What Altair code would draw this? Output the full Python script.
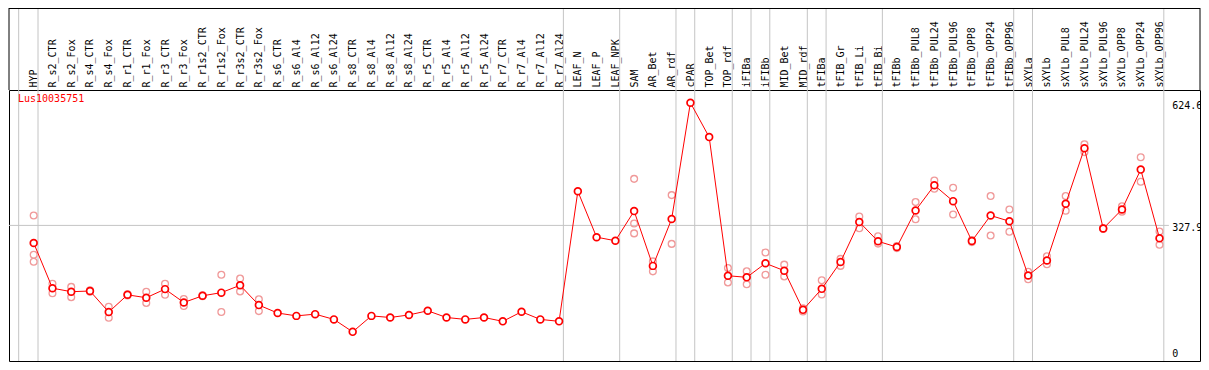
import altair as alt
import pandas as pd

gene_id = "Lus10035751"

samples = ["HYP", "R_s2_CTR", "R_s2_Fox", "R_s4_CTR", "R_s4_Fox", "R_r1_CTR", "R_r1_Fox",
           "R_r3_CTR", "R_r3_Fox", "R_r1s2_CTR", "R_r1s2_Fox", "R_r3s2_CTR", "R_r3s2_Fox",
           "R_s6_CTR", "R_s6_Al4", "R_s6_Al12", "R_s6_Al24", "R_s8_CTR", "R_s8_Al4", "R_s8_Al12",
           "R_s8_Al24", "R_r5_CTR", "R_r5_Al4", "R_r5_Al12", "R_r5_Al24", "R_r7_CTR", "R_r7_Al4",
           "R_r7_Al12", "R_r7_Al24", "LEAF_N", "LEAF_P", "LEAF_NPK", "SAM", "AR_Bet", "AR_rdf",
           "cPAR", "TOP_Bet", "TOP_rdf", "iFIBa", "iFIBb", "MID_Bet", "MID_rdf", "tFIBa",
           "tFIB_Gr", "tFIB_Li", "tFIB_Bi", "tFIBb", "tFIBb_PUL8", "tFIBb_PUL24", "tFIBb_PUL96",
           "tFIBb_OPP8", "tFIBb_OPP24", "tFIBb_OPP96", "sXYLa", "sXYLb", "sXYLb_PUL8",
           "sXYLb_PUL24", "sXYLb_PUL96", "sXYLb_OPP8", "sXYLb_OPP24", "sXYLb_OPP96"]

means = [285.5, 176.1, 167.6, 169.2, 118.4, 160.0, 153.0, 173.8, 141.5, 157.7, 165.3, 183.1, 135.2,
         116.0, 109.1, 113.3, 100.6, 70.5, 109.1, 105.2, 111.4, 121.4, 105.2, 100.6, 105.2, 95.9,
         119.0, 100.6, 95.9,
         410.3, 299.4, 290.8,
         362.5, 230.0, 343.3, 624.6, 541.4, 206.2, 202.3, 236.2, 218.4, 123.7, 174.5, 239.3, 336.3,
         289.4, 275.5, 364.1, 424.9, 386.5, 290.1, 351.8, 338.0, 206.9, 243.2, 380.3, 514.3, 320.2,
         366.4, 462.8, 297.0]

replicates = [
    [351.8, 257.0, 239.9], [186.8, 163.7], [179.2, 154.4], [171.0, 167.5], [131.3, 104.5],
    [161.5, 158.5], [167.6, 140.5], [186.8, 160.0], [149.8, 132.9], [159.0, 156.5],
    [208.5, 118.4], [199.3, 168.3], [149.1, 120.7],
    [], [], [], [], [], [], [], [], [], [], [], [], [], [], [], [],
    [], [], [],
    [440.4, 332.4, 308.6], [240.9, 216.8], [401.1, 283.2], [], [],
    [224.7, 190.0], [216.8, 185.4], [262.4, 208.5], [233.0, 204.6], [127.5, 119.5],
    [195.3, 160.7], [246.9, 230.0], [349.5, 320.9], [301.7, 283.9], [278.0, 273.0],
    [384.2, 342.6], [436.4, 416.6], [418.9, 354.1], [292.5, 287.5], [398.8, 303.3],
    [366.4, 312.5], [216.0, 197.6], [253.1, 233.9], [398.8, 363.4], [524.3, 505.1],
    [321.5, 319.0], [374.0, 361.1], [492.8, 433.4], [313.2, 280.9],
]

# index of the last sample of each group (-1 = before the first sample)
group_ends = [-1, 0, 28, 31, 34, 35, 37, 38, 39, 41, 42, 45, 52, 53, 60]

y_tick_values = [624.6, 327.9, 0]
y_tick_labels = ["624.6", "327.9", "0"]
ref_line_value = 327.9

# ---------------- tables ----------------
mean_df = pd.DataFrame({"idx": list(range(len(samples))), "sample": samples, "value": means})
rep_rows = []
for i, reps in enumerate(replicates):
    for v in reps:
        rep_rows.append({"idx": i, "value": v})
rep_df = pd.DataFrame(rep_rows)
sep_df = pd.DataFrame({"pos": [e + (0.2 if e < 0 else 0.23) for e in group_ends]})
tick_df = pd.DataFrame({"value": y_tick_values, "label": y_tick_labels, "xpos": [60.68] * 3})
gene_df = pd.DataFrame({"gene": [gene_id]})
ref_df = pd.DataFrame({"value": [ref_line_value], "x0": [-1.316], "x1": [60.5]})

W, H, HEAD = 1191, 271, 82
FONT = "DejaVu Sans Mono"

xscale = alt.Scale(domain=[-1.316, 62.158], nice=False, zero=False)
yscale = alt.Scale(domain=[0, 655.3], nice=False, zero=False)

label_expr = "[" + ",".join("'" + s + "'" for s in samples) + "][datum.value]"

top_axis = alt.Axis(orient="top", values=list(range(len(samples))), labelExpr=label_expr,
                    labelAngle=270, labelAlign="left", labelBaseline="middle", labelPadding=3,
                    ticks=False, domain=False, grid=False, title=None, labelFont=FONT,
                    labelFontSize=10, labelColor="black", labelOverlap=False, labelFlush=False,
                    labelBound=False, labelSeparation=0)


def X(field):
    return alt.X(field, scale=xscale, axis=top_axis)


def Y(field):
    return alt.Y(field, scale=yscale, axis=None)


seps = alt.Chart(sep_df).mark_rule(color="#c4c4c4", strokeWidth=1).encode(
    x=X("pos:Q"), y=alt.value(-HEAD), y2=alt.value(H))

grid = alt.Chart(ref_df).mark_rule(color="#c4c4c4", strokeWidth=1).encode(
    x=X("x0:Q"), x2="x1:Q", y=Y("value:Q"))

reps_layer = alt.Chart(rep_df).mark_point(shape="circle", size=46, filled=False,
                                          color="#f09a9a", strokeWidth=1.3, opacity=1).encode(
    x=X("idx:Q"), y=Y("value:Q"))

line = alt.Chart(mean_df).mark_line(color="#ff0000", strokeWidth=1).encode(
    x=X("idx:Q"), y=Y("value:Q"))

mean_pts = alt.Chart(mean_df).mark_point(shape="circle", size=46, filled=False, fill="white",
                                         fillOpacity=1, color="#ff0000", strokeWidth=1.7,
                                         opacity=1).encode(
    x=X("idx:Q"), y=Y("value:Q"))

ticks_top = alt.Chart(tick_df).transform_filter("datum.value > 0").mark_text(
    align="left", baseline="top", dy=-2, font=FONT, fontSize=10, color="black").encode(
    x=X("xpos:Q"), y=Y("value:Q"), text="label:N")

ticks_zero = alt.Chart(tick_df).transform_filter("datum.value == 0").mark_text(
    align="left", baseline="alphabetic", dy=-4, font=FONT, fontSize=10, color="black").encode(
    x=X("xpos:Q"), y=Y("value:Q"), text="label:N")

gene_text = alt.Chart(gene_df).mark_text(align="left", baseline="top", font=FONT, fontSize=10,
                                         color="#ff0000").encode(
    x=alt.value(9), y=alt.value(4), text="gene:N")

frame_df = pd.DataFrame({"k": [0]})
frame_left = alt.Chart(frame_df).mark_rule(color="black", strokeWidth=1).encode(
    x=alt.value(0), y=alt.value(-HEAD), y2=alt.value(0))
frame_right = alt.Chart(frame_df).mark_rule(color="black", strokeWidth=1).encode(
    x=alt.value(W), y=alt.value(-HEAD), y2=alt.value(0))
frame_top = alt.Chart(frame_df).mark_rule(color="black", strokeWidth=1).encode(
    x=alt.value(0), x2=alt.value(W), y=alt.value(-HEAD + 0.5))

chart = alt.layer(
    seps, grid, reps_layer, line, mean_pts, ticks_top, ticks_zero, gene_text,
    frame_left, frame_right, frame_top
).properties(
    width=W, height=H, autosize="none",
    padding={"left": 1, "top": HEAD, "right": 1, "bottom": 1},
    background="white",
).configure_view(
    stroke="black", strokeWidth=1
).configure_axis(
    labelOverlap=False
)

chart.save("out.html", embed_options={"renderer": "svg", "actions": False})
